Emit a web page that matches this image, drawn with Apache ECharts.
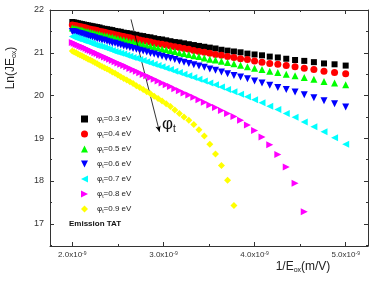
<!DOCTYPE html>
<html>
<head>
<meta charset="utf-8">
<script src="https://cdn.jsdelivr.net/npm/echarts@6/dist/echarts.min.js"></script>
<style>
html, body { margin: 0; padding: 0; background: #fff; }
#chart { width: 376px; height: 281px; }
</style>
</head>
<body>
<div id="chart"></div>
<script>
// 1/Eox in units of 1e-9 m/V
const invField = [2.0000, 2.0202, 2.0408, 2.0619, 2.0833, 2.1053, 2.1277, 2.1505, 2.1739, 2.1978,
  2.2222, 2.2472, 2.2727, 2.2989, 2.3256, 2.3529, 2.3810, 2.4096, 2.4390, 2.4691,
  2.5000, 2.5316, 2.5641, 2.5974, 2.6316, 2.6667, 2.7027, 2.7397, 2.7778, 2.8169,
  2.8571, 2.8986, 2.9412, 2.9851, 3.0303, 3.0769, 3.1250, 3.1746, 3.2258, 3.2787,
  3.3333, 3.3898, 3.4483, 3.5088, 3.5714, 3.6364, 3.7037, 3.7736, 3.8462, 3.9216,
  4.0000, 4.0816, 4.1667, 4.2553, 4.3478, 4.4444, 4.5455, 4.6512, 4.7619, 4.8780, 5.0000];

const phiLabels = ['0.3', '0.4', '0.5', '0.6', '0.7', '0.8', '0.9'];

const lnJE03 = [21.72, 21.71, 21.70, 21.69, 21.68, 21.67, 21.66, 21.65, 21.64, 21.63,
  21.62, 21.61, 21.60, 21.59, 21.57, 21.56, 21.55, 21.54, 21.53, 21.51,
  21.50, 21.49, 21.47, 21.46, 21.45, 21.43, 21.42, 21.40, 21.39, 21.37,
  21.36, 21.34, 21.32, 21.31, 21.29, 21.27, 21.25, 21.24, 21.22, 21.20,
  21.18, 21.16, 21.14, 21.12, 21.10, 21.07, 21.05, 21.03, 21.01, 20.98,
  20.96, 20.94, 20.91, 20.89, 20.86, 20.83, 20.81, 20.78, 20.75, 20.73, 20.70];
const lnJE04 = [21.65, 21.64, 21.63, 21.62, 21.61, 21.60, 21.59, 21.58, 21.56, 21.55,
  21.54, 21.53, 21.52, 21.50, 21.49, 21.48, 21.46, 21.45, 21.44, 21.42,
  21.41, 21.39, 21.38, 21.36, 21.35, 21.33, 21.32, 21.30, 21.28, 21.27,
  21.25, 21.23, 21.21, 21.20, 21.18, 21.16, 21.14, 21.12, 21.10, 21.08,
  21.05, 21.03, 21.01, 20.99, 20.96, 20.94, 20.91, 20.89, 20.86, 20.84,
  20.81, 20.78, 20.75, 20.73, 20.70, 20.67, 20.64, 20.61, 20.57, 20.54, 20.51];
const lnJE05 = [21.58, 21.57, 21.56, 21.55, 21.54, 21.53, 21.51, 21.50, 21.49, 21.48,
  21.47, 21.45, 21.44, 21.43, 21.41, 21.40, 21.39, 21.37, 21.36, 21.34,
  21.33, 21.31, 21.30, 21.28, 21.26, 21.25, 21.23, 21.21, 21.19, 21.17,
  21.15, 21.13, 21.11, 21.09, 21.07, 21.05, 21.03, 21.00, 20.98, 20.96,
  20.93, 20.91, 20.88, 20.85, 20.83, 20.80, 20.77, 20.74, 20.71, 20.67,
  20.64, 20.61, 20.57, 20.54, 20.50, 20.46, 20.42, 20.38, 20.33, 20.29, 20.25];
const lnJE06 = [21.50, 21.49, 21.48, 21.46, 21.45, 21.44, 21.42, 21.41, 21.39, 21.38,
  21.37, 21.35, 21.33, 21.32, 21.30, 21.29, 21.27, 21.25, 21.23, 21.22,
  21.20, 21.18, 21.16, 21.14, 21.12, 21.10, 21.08, 21.06, 21.04, 21.02,
  20.99, 20.97, 20.94, 20.92, 20.89, 20.87, 20.84, 20.81, 20.78, 20.75,
  20.72, 20.69, 20.66, 20.62, 20.59, 20.55, 20.51, 20.47, 20.43, 20.39,
  20.34, 20.29, 20.24, 20.19, 20.14, 20.08, 20.02, 19.95, 19.88, 19.81, 19.73];
const lnJE07 = [21.38, 21.36, 21.35, 21.33, 21.32, 21.30, 21.28, 21.27, 21.25, 21.23,
  21.21, 21.19, 21.17, 21.16, 21.14, 21.12, 21.10, 21.08, 21.05, 21.03,
  21.01, 20.99, 20.97, 20.94, 20.92, 20.89, 20.87, 20.84, 20.82, 20.79,
  20.76, 20.73, 20.70, 20.67, 20.64, 20.61, 20.57, 20.54, 20.50, 20.46,
  20.42, 20.38, 20.34, 20.29, 20.25, 20.20, 20.14, 20.09, 20.03, 19.97,
  19.90, 19.83, 19.75, 19.67, 19.58, 19.49, 19.38, 19.27, 19.15, 19.01, 18.86];
const lnJE08 = [21.24, 21.22, 21.20, 21.18, 21.16, 21.14, 21.12, 21.10, 21.07, 21.05,
  21.03, 21.00, 20.98, 20.95, 20.93, 20.90, 20.88, 20.85, 20.82, 20.79,
  20.76, 20.73, 20.70, 20.67, 20.63, 20.60, 20.57, 20.53, 20.49, 20.46,
  20.42, 20.38, 20.34, 20.29, 20.25, 20.21, 20.16, 20.11, 20.06, 20.01,
  19.96, 19.90, 19.84, 19.78, 19.72, 19.65, 19.58, 19.51, 19.42, 19.31,
  19.18, 19.03, 18.85, 18.62, 18.33, 17.95, 17.28];
const lnJE09 = [21.04, 21.02, 21.00, 20.97, 20.95, 20.93, 20.90, 20.88, 20.85, 20.83,
  20.80, 20.77, 20.74, 20.71, 20.68, 20.65, 20.62, 20.59, 20.55, 20.52,
  20.48, 20.44, 20.40, 20.36, 20.32, 20.28, 20.23, 20.19, 20.14, 20.09,
  20.04, 19.98, 19.93, 19.87, 19.81, 19.74, 19.66, 19.58, 19.50, 19.42,
  19.32, 19.20, 19.05, 18.86, 18.63, 18.36, 18.02, 17.43];

const xMajor = [2, 3, 4, 5];
const xMinor = [2.5, 3.5, 4.5];
const yMajor = [17, 18, 19, 20, 21, 22];
const yMinor = [16.5, 17.5, 18.5, 19.5, 20.5, 21.5];

const seriesValues = [lnJE03, lnJE04, lnJE05, lnJE06, lnJE07, lnJE08, lnJE09];
const marks = [
  { color: '#000000', symbol: 'rect', size: 6, rotate: 0, icon: 'rect' },
  { color: '#ff0000', symbol: 'circle', size: 7, rotate: 0, icon: 'circle' },
  { color: '#00ff00', symbol: 'triangle', size: 7, rotate: 0, icon: 'triangle' },
  { color: '#0000ff', symbol: 'triangle', size: 7, rotate: 180, icon: 'path://M0,0L10,0L5,10Z' },
  { color: '#00ffff', symbol: 'triangle', size: 7, rotate: 90, icon: 'path://M10,0L10,10L0,5Z' },
  { color: '#ff00ff', symbol: 'triangle', size: 7, rotate: -90, icon: 'path://M0,0L0,10L10,5Z' },
  { color: '#ffff00', symbol: 'diamond', size: 7, rotate: 0, icon: 'diamond' }
];

const FONT = 'Liberation Sans, Arial, sans-serif';
const AX = '#333';

function xAx(pos, ticks, len, showLine, showLabel) {
  return {
    type: 'value', position: pos, min: 1.755, max: 5.245,
    axisLine: { show: showLine, onZero: false, lineStyle: { color: AX, width: 1 } },
    axisTick: { show: true, inside: true, length: len, customValues: ticks, lineStyle: { color: AX } },
    axisLabel: {
      show: showLabel, customValues: ticks, margin: 5, fontFamily: FONT, fontSize: 8, color: '#333',
      formatter: v => v.toFixed(1) + 'x10{sup|-9}',
      rich: { sup: { fontSize: 5, verticalAlign: 'top', fontFamily: FONT, color: '#333' } }
    },
    splitLine: { show: false }
  };
}
function yAx(pos, ticks, len, showLine, showLabel) {
  return {
    type: 'value', position: pos, min: 16.48, max: 22,
    axisLine: { show: showLine, onZero: false, lineStyle: { color: AX, width: 1 } },
    axisTick: { show: true, inside: true, length: len, customValues: ticks, lineStyle: { color: AX } },
    axisLabel: { show: showLabel, customValues: ticks, margin: 6, fontFamily: FONT, fontSize: 9, color: '#333' },
    splitLine: { show: false }
  };
}

const series = seriesValues.map((vals, i) => ({
  name: 'φt=' + phiLabels[i] + ' eV',
  type: 'scatter',
  data: vals.map((v, k) => [invField[k], v]),
  symbol: marks[i].symbol,
  symbolSize: marks[i].size,
  symbolRotate: marks[i].rotate,
  itemStyle: { color: marks[i].color, opacity: 1 },
  z: 2 + i
}));

series[0].markLine = {
  silent: true,
  symbol: ['none', 'arrow'],
  symbolSize: [4, 6],
  label: { show: false },
  lineStyle: { color: '#000', width: 0.8, type: 'solid' },
  data: [[{ coord: [2.644, 21.78] }, { coord: [2.957, 19.15] }]],
  animation: false
};

const chart = echarts.init(document.getElementById('chart'));
chart.setOption({
  animation: false,
  backgroundColor: '#fff',
  grid: { left: 50, right: 8, top: 10, bottom: 35 },
  xAxis: [
    xAx('bottom', xMajor, 4, true, true),
    xAx('bottom', xMinor, 2, false, false),
    xAx('top', xMajor, 4, true, false),
    xAx('top', xMinor, 2, false, false)
  ],
  yAxis: [
    yAx('left', yMajor, 4, true, true),
    yAx('left', yMinor, 2, false, false),
    yAx('right', yMajor, 4, true, false),
    yAx('right', yMinor, 2, false, false)
  ],
  legend: {
    orient: 'vertical', left: 76, top: 109,
    itemWidth: 7, itemHeight: 7, itemGap: 5,
    selectedMode: false,
    formatter: n => n.replace('φt', '{p|φ}{s|t}'),
    textStyle: {
      fontFamily: FONT, fontSize: 8, color: '#222', lineHeight: 10, padding: [0, 0, 0, 4],
      rich: {
        p: { fontFamily: FONT, fontSize: 8, lineHeight: 10, color: '#222' },
        s: { fontFamily: FONT, fontSize: 5, lineHeight: 10, verticalAlign: 'bottom', color: '#222' }
      }
    },
    data: series.map((s, i) => ({ name: s.name, icon: marks[i].icon }))
  },
  graphic: [
    {
      type: 'text', left: 69, top: 220,
      style: { text: 'Emission TAT', font: 'bold 8px ' + FONT, fill: '#111' }
    },
    {
      type: 'text', left: 162, top: 116,
      style: {
        text: '{p|φ}{s|t}', fill: '#111',
        rich: {
          p: { fontFamily: FONT, fontSize: 17, lineHeight: 20 },
          s: { fontFamily: FONT, fontSize: 10, lineHeight: 20, verticalAlign: 'bottom' }
        }
      }
    },
    {
      type: 'text', x: 11, y: 68, rotation: Math.PI / 2,
      style: {
        text: 'Ln(JE{s|ox})', fill: '#222', align: 'center', verticalAlign: 'middle',
        font: '12px ' + FONT,
        rich: { s: { fontFamily: FONT, fontSize: 7, verticalAlign: 'bottom', lineHeight: 14 } }
      }
    },
    {
      type: 'text', x: 303, y: 267,
      style: {
        text: '1/E{s|ox}(m/V)', fill: '#222', align: 'center', verticalAlign: 'middle',
        font: '12px ' + FONT,
        rich: { s: { fontFamily: FONT, fontSize: 7, verticalAlign: 'bottom', lineHeight: 14 } }
      }
    }
  ],
  series: series
});
</script>
</body>
</html>
